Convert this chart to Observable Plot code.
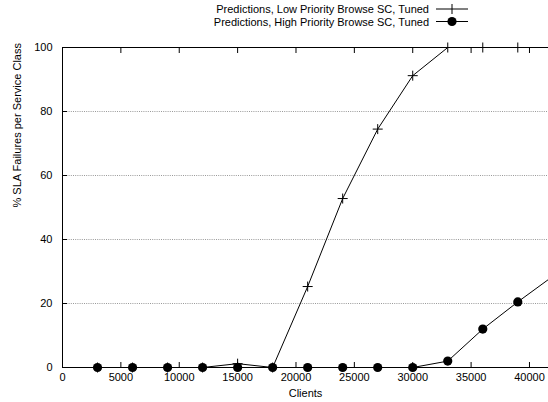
<!DOCTYPE html>
<html>
<head>
<meta charset="utf-8">
<script src="https://cdn.jsdelivr.net/npm/d3@7"></script>
<script src="https://cdn.jsdelivr.net/npm/@observablehq/plot@0.6"></script>
<style>
  html, body { margin: 0; padding: 0; background: #fff; }
  #wrap { position: relative; width: 548px; height: 402px; font-family: "Liberation Sans", Arial, sans-serif; }
  #legend { position: absolute; left: 0; top: 0; width: 548px; height: 30px; }
  #chart { position: absolute; left: 0; top: 0; }
</style>
</head>
<body>
<div id="wrap">
  <div id="chart"></div>
  <svg id="legend" width="548" height="30"></svg>
</div>
<script>
const clients = [3000, 6000, 9000, 12000, 15000, 18000, 21000, 24000, 27000, 30000, 33000, 36000, 39000, 42000];
const lowPriority = [0, 0, 0, 0, 1.2, 0, 25.3, 52.8, 74.5, 91.2, 100, 100, 100, 100];
const highPriority = [0, 0, 0, 0, 0, 0, 0, 0, 0, 0, 2, 12, 20.5, 28.5];
const seriesNames = ["Predictions, Low Priority Browse SC, Tuned", "Predictions, High Priority Browse SC, Tuned"];
const xTicks = [0, 5000, 10000, 15000, 20000, 25000, 30000, 35000, 40000];
const yTicks = [0, 20, 40, 60, 80, 100];
const yGrid = [20, 40, 60, 80];
const xDomain = [0, 41630];

const low = clients.map((c, i) => ({x: c, y: lowPriority[i]}));
const high = clients.map((c, i) => ({x: c, y: highPriority[i]}));
const inView = d => d.x <= xDomain[1];

const plusSymbol = {
  draw(ctx, size) {
    const r = Math.sqrt(size / Math.PI);
    ctx.moveTo(-r, 0); ctx.lineTo(r, 0);
    ctx.moveTo(0, -r); ctx.lineTo(0, r);
  }
};

const fontSize = "11px";
const chart = Plot.plot({
  width: 548,
  height: 402,
  marginLeft: 62,
  marginRight: 0,
  marginTop: 47,
  marginBottom: 35,
  style: {fontFamily: "'Liberation Sans', Arial, sans-serif", fontSize, color: "#000", background: "transparent"},
  x: {domain: xDomain, axis: null},
  y: {domain: [0, 100], axis: null},
  marks: [
    Plot.ruleY(yGrid, {stroke: "#999", strokeDasharray: "1,1.2", strokeWidth: 1}),
    Plot.axisX({ticks: xTicks, anchor: "bottom", tickSize: 0, tickPadding: 6, tickFormat: d => String(d), label: null, fontSize}),
    Plot.axisX({ticks: xTicks, anchor: "bottom", tickSize: -5, tickFormat: () => "", label: null}),
    Plot.axisX({ticks: xTicks, anchor: "top", tickSize: -5, tickFormat: () => "", label: null}),
    Plot.axisY({ticks: yTicks, anchor: "left", tickSize: 0, tickPadding: 10, tickFormat: d => String(d), label: null, fontSize}),
    Plot.axisY({ticks: yTicks, anchor: "left", tickSize: -5, tickFormat: () => "", label: null}),
    Plot.ruleX([0], {stroke: "#000", strokeWidth: 1}),
    Plot.ruleY([0, 100], {stroke: "#000", strokeWidth: 1}),
    Plot.line(low, {x: "x", y: "y", stroke: "#000", strokeWidth: 1, clip: true}),
    Plot.dot(low, {filter: inView, x: "x", y: "y", symbol: plusSymbol, r: 5, stroke: "#000", fill: "none", strokeWidth: 1}),
    Plot.line(high, {x: "x", y: "y", stroke: "#000", strokeWidth: 1, clip: true}),
    Plot.dot(high, {filter: inView, x: "x", y: "y", r: 4.6, fill: "#000", stroke: "none"}),
    Plot.text(["Clients"], {frameAnchor: "bottom", dy: 26, text: d => d, fontSize, lineAnchor: "middle"}),
    Plot.text(["% SLA Failures per Service Class"], {frameAnchor: "left", dx: -45, rotate: -90, text: d => d, fontSize, lineAnchor: "middle"})
  ]
});
document.getElementById("chart").appendChild(chart);

// Legend
const leg = d3.select("#legend");
const rows = [{y: 9, name: seriesNames[0], sym: "plus"}, {y: 21.5, name: seriesNames[1], sym: "dot"}];
rows.forEach(r => {
  leg.append("text").attr("x", 429).attr("y", r.y).attr("text-anchor", "end").attr("dominant-baseline", "central")
    .attr("font-family", "'Liberation Sans', Arial, sans-serif").attr("font-size", fontSize).text(r.name);
  leg.append("line").attr("x1", 436).attr("x2", 468).attr("y1", r.y).attr("y2", r.y).attr("stroke", "#000");
  if (r.sym === "plus") {
    leg.append("line").attr("x1", 452).attr("x2", 452).attr("y1", r.y - 5).attr("y2", r.y + 5).attr("stroke", "#000");
  } else {
    leg.append("circle").attr("cx", 452).attr("cy", r.y).attr("r", 4.6).attr("fill", "#000");
  }
});
</script>
</body>
</html>
